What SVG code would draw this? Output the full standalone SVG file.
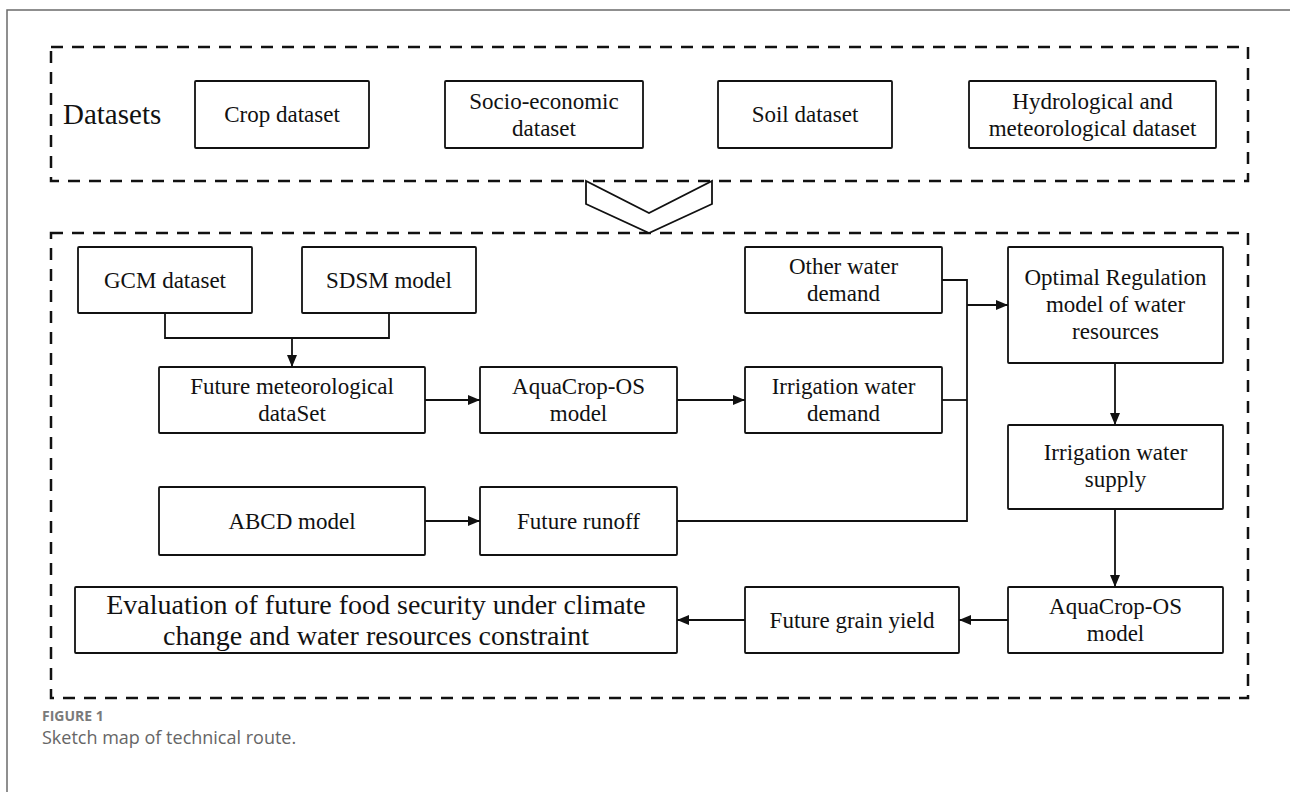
<svg xmlns="http://www.w3.org/2000/svg" width="1290" height="792" viewBox="0 0 1290 792">
<defs>
<style>
.frame{fill:none;stroke:#6b6b6b;stroke-width:1.5}
.dash{fill:none;stroke:#111;stroke-width:2.5;stroke-dasharray:12 9}
.box{fill:#fff;stroke:#111;stroke-width:1.8}
.t{font-family:"Liberation Serif","Times New Roman",serif;font-size:23px;fill:#111;text-anchor:middle}
.big{font-size:28px}
.lab{font-family:"Liberation Serif","Times New Roman",serif;font-size:29px;fill:#111}
.c{fill:none;stroke:#111;stroke-width:1.8}
.cap1{font-family:"Open Sans","Liberation Sans",sans-serif;font-size:14px;font-weight:bold;fill:#7a7a7a}
.cap2{font-family:"Open Sans","Liberation Sans",sans-serif;font-size:18px;fill:#666}
</style>
<marker id="ah" viewBox="0 0 12 10" refX="12" refY="5" markerWidth="12" markerHeight="10" markerUnits="userSpaceOnUse" orient="auto">
<path d="M0,0 L12,5 L0,10 z" fill="#111"/>
</marker>
</defs>
<rect width="1290" height="792" fill="#fff"/>
<path class="frame" d="M7,792 V10 H1290"/>

<g id="datasets-group">
<rect class="dash" x="51" y="47" width="1197" height="134"/>
<text class="lab" x="63" y="124">Datasets</text>
</g>
<g id="model-group">
<rect class="dash" x="51" y="233" width="1197" height="465"/>
</g>
<g id="chevron">
<path d="M586,181 L586,204 L649,233 L712,204 L712,181 L649,213 Z" fill="#fff" stroke="#111" stroke-width="1.8" stroke-linejoin="miter"/>
</g>

<g id="crop">
<rect class="box" x="195" y="81" width="174" height="67" rx="1"/>
<text class="t" x="282" y="122">Crop dataset</text>
</g>
<g id="socio">
<rect class="box" x="445" y="81" width="198" height="67" rx="1"/>
<text class="t" x="544" y="109">Socio-economic</text>
<text class="t" x="544" y="136">dataset</text>
</g>
<g id="soil">
<rect class="box" x="718" y="81" width="174" height="67" rx="1"/>
<text class="t" x="805" y="122">Soil dataset</text>
</g>
<g id="hydro">
<rect class="box" x="969" y="81" width="247" height="67" rx="1"/>
<text class="t" x="1092.5" y="109">Hydrological and</text>
<text class="t" x="1092.5" y="136">meteorological dataset</text>
</g>

<g id="gcm">
<rect class="box" x="78" y="247" width="174" height="66" rx="1"/>
<text class="t" x="165" y="288">GCM dataset</text>
</g>
<g id="sdsm">
<rect class="box" x="302" y="247" width="174" height="66" rx="1"/>
<text class="t" x="389" y="288">SDSM model</text>
</g>
<g id="futmet">
<rect class="box" x="159" y="367" width="266" height="66" rx="1"/>
<text class="t" x="292" y="394">Future meteorological</text>
<text class="t" x="292" y="421">dataSet</text>
</g>
<g id="aqua1">
<rect class="box" x="480" y="367" width="197" height="66" rx="1"/>
<text class="t" x="578.5" y="394">AquaCrop-OS</text>
<text class="t" x="578.5" y="421">model</text>
</g>
<g id="othdem">
<rect class="box" x="745" y="247" width="197" height="66" rx="1"/>
<text class="t" x="843.5" y="274">Other water</text>
<text class="t" x="843.5" y="301">demand</text>
</g>
<g id="irrdem">
<rect class="box" x="745" y="367" width="197" height="66" rx="1"/>
<text class="t" x="843.5" y="394">Irrigation water</text>
<text class="t" x="843.5" y="421">demand</text>
</g>
<g id="optimal">
<rect class="box" x="1008" y="247" width="215" height="116" rx="1"/>
<text class="t" x="1115.5" y="285">Optimal Regulation</text>
<text class="t" x="1115.5" y="312">model of water</text>
<text class="t" x="1115.5" y="339">resources</text>
</g>
<g id="supply">
<rect class="box" x="1008" y="425" width="215" height="84" rx="1"/>
<text class="t" x="1115.5" y="460">Irrigation water</text>
<text class="t" x="1115.5" y="487">supply</text>
</g>
<g id="abcd">
<rect class="box" x="159" y="487" width="266" height="68" rx="1"/>
<text class="t" x="292" y="529">ABCD model</text>
</g>
<g id="runoff">
<rect class="box" x="480" y="487" width="197" height="68" rx="1"/>
<text class="t" x="578.5" y="529">Future runoff</text>
</g>
<g id="eval">
<rect class="box" x="75" y="587" width="602" height="66" rx="1"/>
<text class="t big" x="376" y="614">Evaluation of future food security under climate</text>
<text class="t big" x="376" y="645">change and water resources constraint</text>
</g>
<g id="grain">
<rect class="box" x="745" y="587" width="214" height="66" rx="1"/>
<text class="t" x="852" y="628">Future grain yield</text>
</g>
<g id="aqua2">
<rect class="box" x="1008" y="587" width="215" height="66" rx="1"/>
<text class="t" x="1115.5" y="614">AquaCrop-OS</text>
<text class="t" x="1115.5" y="641">model</text>
</g>

<g id="connectors">
<path class="c" d="M165,313 V338 H389 V313"/>
<path class="c" d="M292,338 V367" marker-end="url(#ah)"/>
<path class="c" d="M425,400 H480" marker-end="url(#ah)"/>
<path class="c" d="M677,400 H745" marker-end="url(#ah)"/>
<path class="c" d="M942,280 H967 V521 H677"/>
<path class="c" d="M942,400 H967"/>
<path class="c" d="M967,305 H1008" stroke-width="2.4" marker-end="url(#ah)"/>
<path class="c" d="M1115,363 V425" marker-end="url(#ah)"/>
<path class="c" d="M1115,509 V587" marker-end="url(#ah)"/>
<path class="c" d="M1008,620 H959" marker-end="url(#ah)"/>
<path class="c" d="M745,620 H677" marker-end="url(#ah)"/>
<path class="c" d="M425,521 H480" marker-end="url(#ah)"/>
</g>

<g id="caption">
<text class="cap1" x="42" y="721">FIGURE 1</text>
<text class="cap2" x="42" y="744">Sketch map of technical route.</text>
</g>
</svg>
